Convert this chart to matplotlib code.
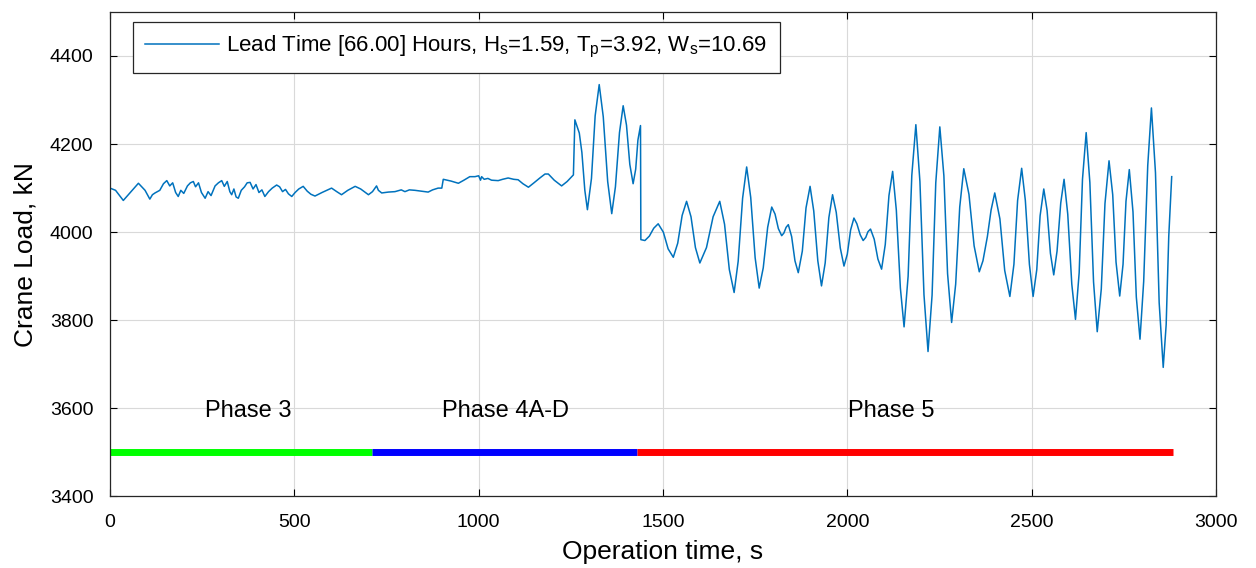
import numpy as np
import matplotlib
matplotlib.use("Agg")
from matplotlib import pyplot as plt

plt.rcParams["font.family"] = ["Liberation Sans", "DejaVu Sans"]
plt.rcParams["mathtext.fontset"] = "custom"
plt.rcParams["mathtext.rm"] = "Liberation Sans"

# crane load trace (time in s, load in kN)
time_s = [
    # phase 3 / 4A-D, small noisy ripple
    0, 15, 36, 55, 77, 95, 108, 115, 122, 135, 145, 154, 162, 170, 178, 185,
    192, 200, 210, 218, 226, 232, 240, 248, 258, 266, 274, 285, 294, 303,
    310, 318, 325, 330, 336, 342, 348, 356, 365, 372, 380, 388, 396, 404,
    412, 420, 430, 440, 452, 460, 468, 476, 484, 493, 502, 512, 524, 535,
    545, 556, 575, 601, 615, 628, 645, 665, 680, 701, 712, 723, 728, 737,
    755, 773, 790, 800, 812, 827, 845, 863, 875, 890, 900, 904, 925, 945,
    960, 976, 990, 1000, 1005, 1008, 1015, 1025, 1035, 1053, 1065, 1080,
    1095, 1107, 1120, 1135, 1150, 1166, 1180, 1189, 1205, 1225, 1240, 1257,
    # end of phase 4A-D, large swings
    1261, 1273, 1280, 1288, 1295, 1306, 1316, 1327, 1338, 1350, 1361, 1371,
    1382, 1392, 1401, 1410, 1419, 1426, 1432, 1439, 1440, 1451, 1463, 1475,
    # phase 5
    1487, 1501, 1514, 1528, 1540, 1552, 1564, 1576, 1588, 1600, 1618, 1636,
    1654, 1667, 1680, 1693, 1704, 1716, 1727, 1738, 1750, 1761, 1772, 1784,
    1795, 1804, 1813, 1822, 1828, 1834, 1840, 1849, 1858, 1867, 1878, 1888,
    1899, 1909, 1920, 1930, 1940, 1950, 1960, 1970, 1981, 1991, 2000, 2009,
    2018, 2026, 2035, 2043, 2050, 2056, 2063, 2073, 2083, 2093, 2103, 2113,
    2123, 2133, 2144, 2154, 2165, 2175, 2186, 2197, 2208, 2219, 2230, 2240,
    2251, 2262, 2272, 2283, 2294, 2305, 2316, 2330, 2344, 2358, 2368, 2380,
    2390, 2400, 2414, 2427, 2441, 2452, 2462, 2473, 2483, 2494, 2504, 2514,
    2523, 2533, 2542, 2551, 2560, 2569, 2579, 2588, 2598, 2609, 2619, 2629,
    2638, 2648, 2658, 2668, 2678, 2689, 2699, 2710, 2720, 2729, 2739, 2748,
    2756, 2765, 2775, 2784, 2794, 2804, 2815, 2825, 2836, 2846, 2857, 2865,
    2872, 2880,
]
load_kn = [
    4100, 4095, 4072, 4090, 4111, 4095, 4075, 4085, 4089, 4095, 4110, 4117,
    4105, 4112, 4090, 4081, 4095, 4088, 4105, 4112, 4115, 4103, 4112, 4090,
    4077, 4092, 4083, 4105, 4112, 4117, 4104, 4115, 4092, 4085, 4098, 4080,
    4077, 4095, 4103, 4112, 4113, 4098, 4108, 4090, 4096, 4081, 4092, 4100,
    4107, 4103, 4092, 4097, 4087, 4081, 4090, 4098, 4104, 4093, 4086, 4082,
    4090, 4100, 4092, 4085, 4095, 4104, 4098, 4085, 4092, 4105, 4095, 4089,
    4091, 4092, 4096, 4092, 4096, 4095, 4093, 4091, 4096, 4100, 4100, 4120,
    4116, 4111, 4118, 4126, 4126, 4128, 4118, 4126, 4120, 4122, 4118, 4117,
    4120, 4123, 4120, 4119, 4110, 4102, 4112, 4123, 4132, 4132, 4118, 4105,
    4115, 4130,
    4255, 4225, 4181, 4095, 4051, 4122, 4264, 4335, 4262, 4115, 4042, 4103,
    4226, 4287, 4243, 4154, 4110, 4143, 4209, 4242, 3983, 3981, 3991, 4009,
    4019, 4000, 3962, 3943, 3975, 4038, 4070, 4035, 3965, 3930, 3965, 4035,
    4070, 4018, 3915, 3863, 3934, 4077, 4148, 4079, 3942, 3873, 3919, 4011,
    4057, 4041, 4008, 3992, 3998, 4011, 4017, 3990, 3935, 3908, 3957, 4055,
    4104, 4048, 3935, 3878, 3930, 4033, 4085, 4045, 3964, 3923, 3950, 4005,
    4032, 4019, 3994, 3981, 3988, 4001, 4007, 3984, 3939, 3916, 3972, 4083,
    4138, 4050, 3873, 3785, 3900, 4129, 4244, 4115, 3858, 3729, 3857, 4112,
    4239, 4128, 3906, 3795, 3882, 4057, 4144, 4086, 3969, 3910, 3935, 3990,
    4050, 4089, 4030, 3913, 3854, 3927, 4072, 4145, 4072, 3927, 3854, 3915,
    4037, 4098, 4049, 3952, 3903, 3957, 4066, 4120, 4041, 3882, 3802, 3908,
    4120, 4226, 4113, 3887, 3774, 3871, 4065, 4162, 4085, 3932, 3855, 3927,
    4070, 4142, 4046, 3853, 3757, 3888, 4151, 4282, 4135, 3840, 3693, 3790,
    3990, 4126,
]

legend_label = (r"Lead Time [66.00] Hours, H$_\mathregular{s}$=1.59, "
                r"T$_\mathregular{p}$=3.92, W$_\mathregular{s}$=10.69")

phase_names = ["Phase 3", "Phase 4A-D", "Phase 5"]
phase_start = [0, 711, 1430]
phase_end = [711, 1430, 2884]
phase_label_x = [374, 1074, 2118]
phase_colors = ["#00ff00", "#0000ff", "#ff0000"]
phase_bar_y = 3500
phase_label_y = 3594

fig = plt.figure(figsize=(12.56, 5.68), dpi=100)
ax = fig.add_axes([0.0876, 0.126, 0.8805, 0.853])

ax.plot(time_s, load_kn, color="#0072BD", linewidth=1.1, label=legend_label)

for start, end, col in zip(phase_start, phase_end, phase_colors):
    ax.plot([start, end], [phase_bar_y, phase_bar_y], color=col,
            linewidth=5, solid_capstyle="butt")
for name, xpos in zip(phase_names, phase_label_x):
    ax.text(xpos, phase_label_y, name, ha="center", va="center", fontsize=17)

ax.set_xlim(0, 3000)
ax.set_ylim(3400, 4500)
ax.set_xticks(np.arange(0, 3001, 500))
ax.set_yticks(np.arange(3400, 4401, 200))
ax.grid(True, color="#d9d9d9", linewidth=0.8)
ax.tick_params(direction="in", top=True, right=True, labelsize=14, length=5)
ax.tick_params(axis="x", pad=13)
ax.tick_params(axis="y", pad=12)
for sp in ax.spines.values():
    sp.set_linewidth(0.9)
    sp.set_color("#262626")

ax.set_xlabel("Operation time, s", fontsize=19, labelpad=6)
ax.set_ylabel("Crane Load, kN", fontsize=19, labelpad=9)

leg = ax.legend(loc="upper left", bbox_to_anchor=(0.0208, 0.979),
                borderaxespad=0, fancybox=False, fontsize=16,
                handlelength=3.3, handletextpad=0.35, borderpad=0.55,
                framealpha=1, edgecolor="#262626")
leg.get_frame().set_linewidth(0.9)

fig.savefig("out.png", dpi=100)
